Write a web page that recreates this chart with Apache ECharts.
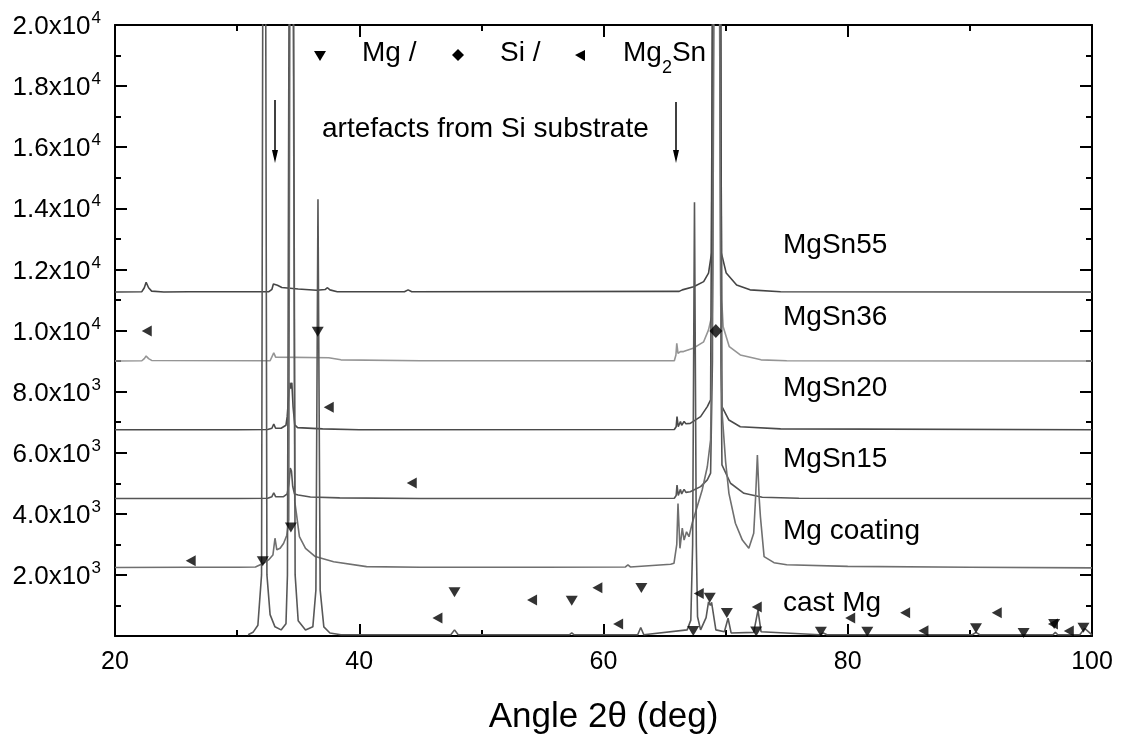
<!DOCTYPE html>
<html>
<head>
<meta charset="utf-8">
<script src="https://cdn.jsdelivr.net/npm/echarts@6/dist/echarts.min.js"></script>
<style>
  html, body { margin: 0; padding: 0; background: #fff; }
  #xrd-chart { width: 1122px; height: 742px; }
</style>
</head>
<body>
<div id="xrd-chart"></div>
<script>
// XRD patterns, [2theta, intensity]
var castMg = [
  [30.9, 40], [31.3, 120], [31.7, 350], [32.0, 2000], [32.1, 21000], [32.22, 28000], [32.34, 21000], [32.44, 2000],
  [32.7, 700], [33.1, 300], [33.6, 200], [34.0, 400], [34.12, 2000], [34.25, 21000], [34.44, 28000], [34.62, 21000],
  [34.75, 2000], [35.0, 500], [35.6, 200], [36.2, 300], [36.45, 1500], [36.62, 14300], [36.8, 1500], [37.1, 300],
  [37.6, 100], [38.5, 40], [47.5, 40], [47.8, 200], [48.1, 40], [57.2, 40], [57.4, 100], [57.6, 40],
  [62.8, 40], [63.05, 280], [63.3, 40], [66.85, 200], [67.15, 520], [67.3, 3000], [67.45, 14200], [67.6, 3000],
  [67.7, 630], [67.95, 200], [68.4, 600], [68.6, 1120], [68.75, 1000], [68.85, 1100], [69.2, 200], [69.9, 140],
  [70.2, 580], [70.45, 100], [72.3, 120], [72.65, 850], [72.9, 140], [77.7, 40], [78.0, 100], [78.3, 40],
  [90.2, 40], [90.5, 120], [90.8, 40], [96.8, 40], [97.0, 120], [97.2, 40], [99.0, 40], [99.4, 250], [100, 40]
];
var mgCoating = [
  [20, 2240], [26, 2250], [30, 2250], [31.5, 2260], [32.16, 2380], [32.57, 2490], [32.93, 2650], [33.1, 3200],
  [33.25, 2820], [33.52, 2870], [33.8, 3030], [34.07, 3300], [34.23, 3800], [34.32, 21000], [34.45, 26000],
  [34.6, 21000], [34.72, 4400], [34.85, 4020], [35.1, 3250], [35.6, 2870], [36.4, 2600], [37.9, 2430],
  [40.6, 2270], [45, 2250], [55, 2250], [61.8, 2260], [62.0, 2330], [62.2, 2260], [65.5, 2350], [65.77, 2380],
  [66.0, 3000], [66.1, 4340], [66.26, 2870], [66.45, 3530], [66.6, 3140], [66.8, 3410], [67.0, 3250],
  [67.26, 3690], [67.67, 4230], [68.08, 4780], [68.5, 5540], [68.77, 6420], [68.95, 12000], [69.05, 21000],
  [69.26, 40000], [69.5, 21000], [69.62, 9000], [69.73, 7200], [70.0, 5700], [70.27, 4670], [70.8, 3690],
  [71.37, 3140], [71.9, 2870], [72.3, 3360], [72.45, 4500], [72.6, 5920], [72.75, 4500], [72.85, 3900],
  [73.15, 2600], [73.96, 2400], [75, 2330], [80, 2280], [90, 2250], [100, 2230]
];
var mgSn15 = [
  [20, 4500], [30, 4500], [32.5, 4510], [32.85, 4560], [33.0, 4690], [33.15, 4560], [33.8, 4560], [34.1, 4650],
  [34.25, 5000], [34.35, 5500], [34.45, 5400], [34.55, 4900], [34.7, 4650], [35.0, 4615], [36.0, 4550],
  [38.4, 4520], [45, 4500], [65.8, 4510], [65.95, 4600], [66.02, 4940], [66.12, 4600], [66.3, 4800],
  [66.4, 4650], [66.6, 4800], [66.75, 4700], [67.1, 4720], [67.95, 4890], [68.5, 5110], [68.77, 5330],
  [68.92, 9000], [69.0, 21000], [69.26, 40000], [69.52, 21000], [69.62, 9000], [69.7, 5600], [70.4, 5000],
  [71.5, 4670], [73, 4540], [76, 4510], [100, 4500]
];
var mgSn20 = [
  [20, 6750], [30, 6750], [32.5, 6760], [32.85, 6800], [33.0, 6940], [33.15, 6800], [33.6, 6800], [34.0, 6900],
  [34.1, 7180], [34.2, 7730], [34.32, 8290], [34.4, 8100], [34.48, 8290], [34.58, 7510], [34.72, 6910],
  [34.95, 6820], [37, 6780], [40, 6750], [65.8, 6760], [65.95, 6850], [66.02, 7180], [66.12, 6850],
  [66.3, 7020], [66.4, 6900], [66.6, 7020], [66.75, 6950], [67.1, 6960], [67.95, 7180], [68.5, 7510],
  [68.77, 7730], [68.93, 21000], [69.26, 40000], [69.59, 21000], [69.7, 7510], [70.27, 7070], [71.2, 6850],
  [74.5, 6780], [100, 6750]
];
var mgSn36 = [
  [20, 9000], [22.2, 9010], [22.4, 9080], [22.55, 9165], [22.75, 9080], [23.0, 9020], [32.7, 9010],
  [32.85, 9060], [33.0, 9270], [33.15, 9130], [37.5, 9110], [38.5, 9040], [45, 9010], [65.8, 9010],
  [65.93, 9200], [66.0, 9580], [66.1, 9250], [66.3, 9310], [66.4, 9250], [66.55, 9310], [66.7, 9350],
  [67.4, 9430], [68.2, 9630], [68.6, 10020], [68.85, 10450], [68.95, 21000], [69.26, 40000], [69.57, 21000],
  [69.68, 11000], [69.8, 10120], [70.3, 9470], [71.2, 9200], [72.9, 9040], [75, 9010], [100, 9000]
];
var mgSn55 = [
  [20, 11260], [22.2, 11270], [22.4, 11400], [22.55, 11580], [22.75, 11400], [23.0, 11290], [24, 11260],
  [26, 11270], [32.6, 11270], [32.85, 11350], [32.97, 11520], [33.1, 11460], [33.3, 11480], [33.66, 11410],
  [35, 11360], [36.5, 11320], [37.2, 11340], [37.4, 11400], [37.6, 11330], [38.2, 11270], [43.7, 11270],
  [44.0, 11330], [44.3, 11270], [66.2, 11280], [66.45, 11330], [66.6, 11300], [67.38, 11430], [68.2, 11600],
  [68.6, 11880], [68.85, 12540], [68.93, 21000], [69.26, 40000], [69.59, 21000], [69.65, 12540],
  [70.05, 11880], [70.9, 11490], [72.0, 11330], [74.5, 11270], [100, 11260]
];

// phase markers
var mgPeaks = [
  [32.1, 2450], [34.4, 3550], [36.6, 9960], [47.8, 1430], [57.4, 1150], [63.1, 1570], [67.35, 160],
  [68.7, 1250], [70.1, 750], [72.5, 150], [77.8, 140], [81.6, 140], [90.5, 250], [94.4, 100], [96.9, 390], [99.3, 270]
];
var mg2SnPeaks = [
  [22.6, 9980], [26.2, 2460], [37.5, 7490], [44.3, 5010], [46.4, 590], [54.15, 1180], [59.5, 1580],
  [61.2, 390], [67.8, 1390], [72.55, 950], [80.2, 590], [84.7, 760], [86.2, 175], [92.2, 760], [96.8, 390], [98.1, 160]
];
var siPeaks = [[69.2, 9980]];

var sampleNames = ['MgSn55', 'MgSn36', 'MgSn20', 'MgSn15', 'Mg coating', 'cast Mg'];
var sampleData = [mgSn55, mgSn36, mgSn20, mgSn15, mgCoating, castMg];
var sampleColors = ['#454545', '#959595', '#4a4a4a', '#555555', '#6f6f6f', '#585858'];

var FONT = "'Liberation Sans', Arial, sans-serif";

var xrdDom = document.getElementById('xrd-chart');
var xrdChart = echarts.init(xrdDom);

function frameAxis(extra) {
    var base = {
        axisLine: { show: true, onZero: false, lineStyle: { color: '#000', width: 2 } },
        axisTick: { show: true, inside: true, length: 12, lineStyle: { color: '#000', width: 2 } },
        minorTick: { show: true, splitNumber: 2, length: 6, lineStyle: { color: '#000', width: 2 } },
        splitLine: { show: false },
        minorSplitLine: { show: false }
    };
    return Object.assign(base, extra);
}

var series = sampleData.map(function (d, i) {
    return {
        name: sampleNames[i],
        type: 'line',
        data: d,
        showSymbol: false,
        clip: true,
        z: 2,
        lineStyle: { color: sampleColors[i], width: 1.6 },
        emphasis: { disabled: true }
    };
});

series.push({
    name: 'Mg', type: 'scatter', data: mgPeaks, z: 5,
    symbol: 'path://M0,0L12,0L6,10Z', symbolSize: [12, 10],
    itemStyle: { color: '#000' }
});
series.push({
    name: 'Mg2Sn', type: 'scatter', data: mg2SnPeaks, z: 5,
    symbol: 'path://M0,5L10,0L10,10Z', symbolSize: [10, 11],
    itemStyle: { color: '#000' }
});
series.push({
    name: 'Si', type: 'scatter', data: siPeaks, z: 5,
    symbol: 'diamond', symbolSize: [13, 14],
    itemStyle: { color: '#000' }
});

// text annotations
var labelY = [247, 319, 390, 461, 533, 605];
var graphics = sampleNames.map(function (n, i) {
    return {
        type: 'text', left: 783, top: labelY[i] - 16, z: 10,
        style: { text: n, fontSize: 28, fontFamily: FONT, fill: '#000' }
    };
});
graphics.push(
    { type: 'text', left: 322, top: 115, z: 10,
      style: { text: 'artefacts from Si substrate', fontSize: 28, fontFamily: FONT, fill: '#000' } },
    { type: 'text', left: 362, top: 39, z: 10,
      style: { text: 'Mg /', fontSize: 28, fontFamily: FONT, fill: '#000' } },
    { type: 'text', left: 500, top: 39, z: 10,
      style: { text: 'Si /', fontSize: 28, fontFamily: FONT, fill: '#000' } },
    { type: 'text', left: 623, top: 39, z: 10,
      style: {
          text: '{a|Mg}{s|2}{a|Sn}', fontFamily: FONT, fill: '#000',
          rich: {
              a: { fontSize: 28, fontFamily: FONT, lineHeight: 32, verticalAlign: 'top' },
              s: { fontSize: 18, fontFamily: FONT, lineHeight: 32, verticalAlign: 'bottom', padding: [0, 0, -6, 0] }
          }
      } },
    { type: 'polygon', z: 10, shape: { points: [[314, 51], [326, 51], [320, 61]] }, style: { fill: '#000' } },
    { type: 'polygon', z: 10, shape: { points: [[458, 49], [464, 55], [458, 61], [452, 55]] }, style: { fill: '#000' } },
    { type: 'polygon', z: 10, shape: { points: [[575, 55], [585, 50], [585, 61]] }, style: { fill: '#000' } },
    { type: 'line', z: 10, shape: { x1: 275, y1: 100, x2: 275, y2: 152 }, style: { stroke: '#000', lineWidth: 1.5 } },
    { type: 'polygon', z: 10, shape: { points: [[272, 150], [278, 150], [275, 163]] }, style: { fill: '#000' } },
    { type: 'line', z: 10, shape: { x1: 676, y1: 102, x2: 676, y2: 152 }, style: { stroke: '#000', lineWidth: 1.5 } },
    { type: 'polygon', z: 10, shape: { points: [[673, 150], [679, 150], [676, 163]] }, style: { fill: '#000' } }
);

var xrdOption = {
    animation: false,
    backgroundColor: '#fff',
    grid: { left: 115, right: 30, top: 25, bottom: 106 },
    xAxis: [
        frameAxis({
            type: 'value', position: 'bottom', min: 20, max: 100, interval: 20,
            name: 'Angle 2\u03B8 (deg)', nameLocation: 'middle', nameGap: 64,
            nameTextStyle: { fontSize: 35, fontFamily: FONT, color: '#000' },
            axisLabel: { margin: 14, fontSize: 25, fontFamily: FONT, color: '#000' }
        }),
        frameAxis({
            type: 'value', position: 'top', min: 20, max: 100, interval: 20,
            axisLabel: { show: false }
        })
    ],
    yAxis: [
        frameAxis({
            type: 'value', position: 'left', min: 0, max: 20000, interval: 2000,
            axisLabel: {
                margin: 14, showMinLabel: true, showMaxLabel: true,
                formatter: function (v) {
                    if (v === 0) return '';
                    var e = v >= 10000 ? 4 : 3;
                    return '{m|' + (v / Math.pow(10, e)).toFixed(1) + 'x10}{e|' + e + '}';
                },
                rich: {
                    m: { fontSize: 26, fontFamily: FONT, color: '#000', lineHeight: 30, verticalAlign: 'bottom' },
                    e: { fontSize: 17, fontFamily: FONT, color: '#000', lineHeight: 30, verticalAlign: 'top', padding: [0, 0, 0, 1] }
                }
            }
        }),
        frameAxis({
            type: 'value', position: 'right', min: 0, max: 20000, interval: 2000,
            axisLabel: { show: false }
        })
    ],
    series: series,
    graphic: graphics
};

xrdChart.setOption(xrdOption);
</script>
</body>
</html>
